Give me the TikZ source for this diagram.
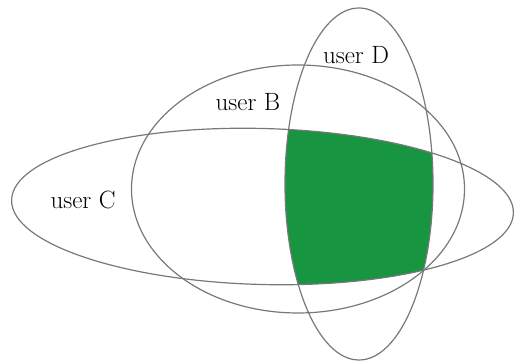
\documentclass[tikz,border=0pt]{standalone}
\definecolor{regiongreen}{RGB}{24,149,64}
\definecolor{ringgray}{RGB}{120,120,120}
\begin{document}
\begin{tikzpicture}[x=1pt,y=1pt,
  ring/.style={draw=ringgray,line width=1.2pt},
  lbl/.style={font=\rmfamily\fontsize{25}{29}\selectfont,inner sep=0pt}]
\useasboundingbox (0,0) rectangle (514,363);
% green region = C intersect D
\begin{scope}
  \clip[rotate around={-1.5:(262.5,156.5)}] (262.5,156.5) ellipse [x radius=251, y radius=78];
  \fill[regiongreen] (359,179) ellipse [x radius=74, y radius=176];
\end{scope}
% ellipses
\draw[ring,rotate around={-1.5:(262.5,156.5)}] (262.5,156.5) ellipse [x radius=251, y radius=78];
\draw[ring] (298,174) ellipse [x radius=166.5, y radius=124];
\draw[ring] (359,179) ellipse [x radius=74, y radius=176];
% labels
\node[lbl] (labD) at (356,308) {user D};
\node[lbl] (labB) at (248,261) {user B};
\node[lbl] (labC) at (83,163) {user C};
\end{tikzpicture}
\end{document}
